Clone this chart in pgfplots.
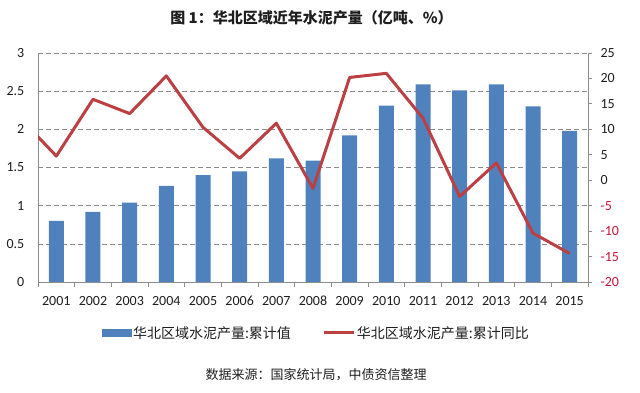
\documentclass[border=0pt]{standalone}
\usepackage{pgfplots}
\pgfplotsset{compat=1.18}
\usepackage{fontspec}
\setmainfont{Carlito}
\newfontfamily\cjk{Noto Sans CJK SC}
\definecolor{barblue}{RGB}{79,129,189}
\definecolor{linered}{RGB}{187,64,68}
\definecolor{negred}{RGB}{204,20,60}
\definecolor{axgray}{RGB}{140,140,140}
\definecolor{txt}{RGB}{30,30,30}
\begin{document}
\begin{tikzpicture}
\path[use as bounding box] (-38bp,-111bp) rectangle (602bp,282bp);
\begin{axis}[
  at={(0,0)}, anchor=south west,
  scale only axis, width=550bp, height=229bp,
  xmin=2000.5, xmax=2015.5, ymin=0, ymax=3,
  axis x line*=bottom, axis y line*=left,
  axis line style={axgray, line width=0.8bp},
  xtick={2001,...,2015},
  minor xtick={2000.5,2001.5,...,2015.5},
  major x tick style={draw=none},
  minor x tick style={axgray, line width=0.8bp},
  minor tick length=5bp,
  tick align=outside,
  ytick={0,0.5,...,3},
  major y tick style={draw=none},
  ymajorgrids,
  grid style={axgray, dash pattern=on 5bp off 3bp, line width=0.6bp},
  /pgf/number format/assume math mode=true,
  /pgf/number format/set thousands separator={},
  tick label style={font=\fontsize{14bp}{16bp}\selectfont, text=txt},
  xticklabel style={yshift=-6bp, text height=10bp, text depth=2bp},
  yticklabel style={xshift=-6bp},
]
\addplot[ybar, bar width=15bp, fill=barblue, draw=none] coordinates {
(2001,0.80) (2002,0.92) (2003,1.04) (2004,1.26) (2005,1.40) (2006,1.45)
(2007,1.62) (2008,1.59) (2009,1.92) (2010,2.31) (2011,2.59) (2012,2.51)
(2013,2.59) (2014,2.30) (2015,1.98)};
\end{axis}
\begin{axis}[
  at={(0,0)}, anchor=south west,
  scale only axis, width=550bp, height=229bp,
  xmin=2000.5, xmax=2015.5, ymin=-20, ymax=25,
  axis x line=none, axis y line*=right,
  axis line style={axgray, line width=0.8bp},
  ytick={-20,-15,...,25},
  yticklabels={{\textcolor{negred}{-20}},{\textcolor{negred}{-15}},{\textcolor{negred}{-10}},{\textcolor{negred}{-5}},0,5,10,15,20,25},
  major y tick style={axgray, line width=0.8bp},
  major tick length=4bp,
  tick align=outside,
  tick label style={font=\fontsize{14bp}{16bp}\selectfont, text=txt},
  yticklabel style={xshift=5bp},
  legend columns=2,
  legend style={at={(0.506,-0.2227)}, anchor=center, draw=none, fill=none,
    font=\cjk\fontsize{14bp}{16bp}\selectfont, text=txt,
    nodes={inner sep=1.5bp},
    /tikz/every even column/.style={column sep=30bp}},
]
\addlegendimage{legend image code/.code={\fill[barblue] (0bp,-3.5bp) rectangle (29bp,3.5bp);}}
\addlegendentry{华北区域水泥产量:累计值}
\addplot[linered, line width=3bp, line join=round,
  legend image code/.code={\draw[linered, line width=3bp] (0bp,0bp) -- (30bp,0bp);}] coordinates {
(2000,12.3) (2001,4.75) (2002,15.9) (2003,13.1) (2004,20.5) (2005,10.4)
(2006,4.3) (2007,11.2) (2008,-1.6) (2009,20.2) (2010,21.0) (2011,12.2)
(2012,-3.2) (2013,3.4) (2014,-10.4) (2015,-14.4)};
\addlegendentry{华北区域水泥产量:累计同比}
\end{axis}
\node[font=\cjk\bfseries\fontsize{15bp}{17bp}\selectfont, text=txt] at (273.5bp,264bp) {图 1：华北区域近年水泥产量（亿吨、\%）};
\node[font=\cjk\fontsize{13bp}{15bp}\selectfont, text=txt] at (278bp,-93bp) {数据来源：国家统计局，中债资信整理};
\end{tikzpicture}
\end{document}
